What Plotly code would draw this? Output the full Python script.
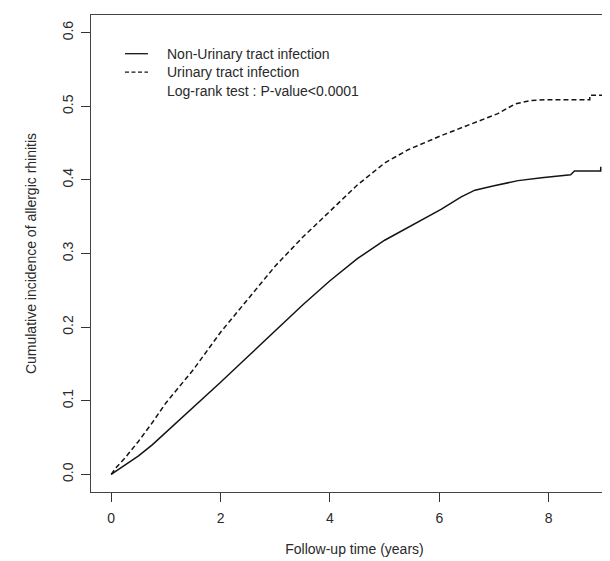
import plotly.graph_objects as go

# Data
time_non = [0, 0.1, 0.25, 0.5, 0.75, 1, 1.5, 2, 2.5, 3, 3.5, 4, 4.5, 5, 5.43,
            6.03, 6.4, 6.65, 7.0, 7.44, 7.87, 8.4, 8.47, 8.95, 8.95]
cum_non = [0, 0.005, 0.012, 0.025, 0.04, 0.057, 0.09, 0.125, 0.16, 0.195, 0.23,
           0.263, 0.293, 0.318, 0.336, 0.36, 0.377, 0.386, 0.392, 0.399, 0.403,
           0.407, 0.412, 0.412, 0.418]

time_uti = [0, 0.1, 0.25, 0.5, 0.75, 1, 1.5, 2, 2.5, 3, 3.5, 4, 4.5, 5, 5.43,
            6.03, 6.65, 7.07, 7.38, 7.68, 8.0, 8.75, 8.75, 9.02]
cum_uti = [0, 0.01, 0.022, 0.045, 0.07, 0.097, 0.142, 0.193, 0.238, 0.283, 0.322,
           0.358, 0.393, 0.423, 0.441, 0.46, 0.478, 0.49, 0.503, 0.508, 0.509,
           0.509, 0.515, 0.515]

series_names = ["Non-Urinary tract infection", "Urinary tract infection"]
test_text = "Log-rank test : P-value<0.0001"
x_ticks = [0, 2, 4, 6, 8]
y_ticks = [0.0, 0.1, 0.2, 0.3, 0.4, 0.5, 0.6]
y_tick_labels = ["0.0", "0.1", "0.2", "0.3", "0.4", "0.5", "0.6"]

FONT = "Liberation Sans, Arial, sans-serif"
INK = "#2a2a2a"
LINE = "#141414"

fig = go.Figure()
fig.add_trace(go.Scatter(x=time_non, y=cum_non, mode="lines", name=series_names[0],
                         line=dict(color=LINE, width=1.5), showlegend=False))
fig.add_trace(go.Scatter(x=time_uti, y=cum_uti, mode="lines", name=series_names[1],
                         line=dict(color=LINE, width=1.5, dash="5px,3px"),
                         showlegend=False))

# Legend drawn by hand (R-style legend without a box)
legend_rows_y = [46, 64.5, 83]  # pixel rows
W, H = 610, 561
PL, PT, PB = 82.5, 7.3, 484.3

def py(p):
    return 1 - (p - PT) / (PB - PT)

def px(p):
    return (p - PL) / (W - PL)

for i, (name, dash) in enumerate([(series_names[0], "solid"), (series_names[1], "4px,2.5px")]):
    fig.add_shape(type="line", xref="paper", yref="paper",
                  x0=px(116.5), x1=px(139.5), y0=py(legend_rows_y[i]), y1=py(legend_rows_y[i]),
                  line=dict(color=LINE, width=1.3, dash=dash))
    fig.add_annotation(xref="paper", yref="paper", x=px(157), y=py(legend_rows_y[i]),
                       text=name, showarrow=False, xanchor="left", yanchor="middle",
                       font=dict(family=FONT, size=14, color=INK))
fig.add_annotation(xref="paper", yref="paper", x=px(157), y=py(legend_rows_y[2]),
                   text=test_text, showarrow=False, xanchor="left", yanchor="middle",
                   font=dict(family=FONT, size=14, color=INK))

fig.update_layout(
    width=W, height=H,
    margin=dict(l=PL, r=0, t=PT, b=H - PB),
    paper_bgcolor="white", plot_bgcolor="white",
    font=dict(family=FONT, size=14, color=INK),
    xaxis=dict(range=[-0.369, 9.266], tickvals=x_ticks, ticks="outside", ticklen=9,
               tickwidth=1.1, tickcolor="#333333", showgrid=False, zeroline=False,
               showline=True, linecolor="#444444", linewidth=1.3, mirror=True,
               ticklabelstandoff=4,
               tickfont=dict(family=FONT, size=14, color=INK),
               title=dict(text="Follow-up time (years)", standoff=19,
                          font=dict(family=FONT, size=14, color=INK))),
    yaxis=dict(range=[-0.024, 0.624], tickvals=y_ticks, ticktext=y_tick_labels,
               ticks="outside", ticklen=9, tickwidth=1.1, tickcolor="#333333",
               tickangle=-90, showgrid=False, zeroline=False,
               showline=True, linecolor="#444444", linewidth=1.3,
               ticklabelstandoff=2,
               tickfont=dict(family=FONT, size=14, color=INK),
               title=dict(text="Cumulative incidence of allergic rhinitis", standoff=20,
                          font=dict(family=FONT, size=14, color=INK))),
)

fig.write_html("out.html")
